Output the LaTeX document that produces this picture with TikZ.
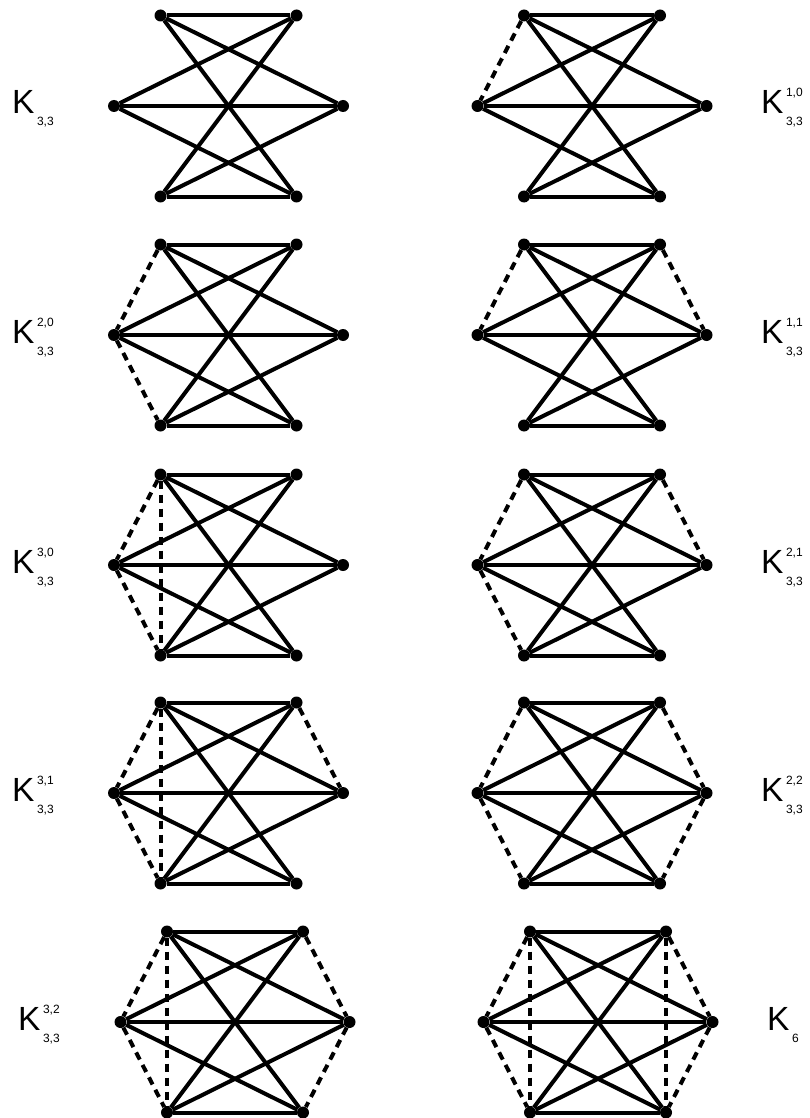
\documentclass[tikz,border=0pt]{standalone}
\usepackage{fontspec}
\setmainfont{Liberation Sans}
\usetikzlibrary{positioning}
\tikzset{
  vtx/.style={circle,fill=black,inner sep=0pt,minimum size=12pt},
  edge/.style={line width=4pt,black},
  extra/.style={line width=4pt,black,dash pattern=on 8pt off 6pt},
  klab/.style={anchor=base west,inner sep=0pt,font=\fontsize{33.5}{36}\selectfont},
}
% upper and lower index of a graph name
\newcommand{\idx}[2]{\hspace{2.5pt}\makebox[0pt][l]{\raisebox{17pt}{\fontsize{12}{12}\selectfont #1}}\raisebox{-12pt}{\fontsize{12}{12}\selectfont #2}}

\begin{document}
\begin{tikzpicture}[x=1pt,y=-1pt]
  \useasboundingbox (0,0) rectangle (809,1118);
  % the ten graphs, K33 edges in each
  \foreach \p/\cx/\cy in {1/228.5/106,2/592/106,3/228.5/335,4/592/335,5/228.5/565,
                          6/592/565,7/228.5/793,8/592/793,9/235/1022,10/598/1022}{
    \node[vtx] (p\p-tl) at (\cx-68,\cy-90.5) {};
    \node[vtx] (p\p-tr) at (\cx+68,\cy-90.5) {};
    \node[vtx] (p\p-l) at (\cx-114.5,\cy) {};
    \node[vtx] (p\p-r) at (\cx+114.5,\cy) {};
    \node[vtx] (p\p-bl) at (\cx-68,\cy+90.5) {};
    \node[vtx] (p\p-br) at (\cx+68,\cy+90.5) {};
    \foreach \a/\b in {tl/tr,tl/r,tl/br,l/tr,l/r,l/br,bl/tr,bl/r,bl/br}
      \draw[edge] (p\p-\a) -- (p\p-\b);
  }
  % added edges
  \draw[extra] (p2-tl) -- (p2-l);
  \draw[extra] (p3-tl) -- (p3-l) -- (p3-bl);
  \draw[extra] (p4-tl) -- (p4-l);
  \draw[extra] (p4-tr) -- (p4-r);
  \draw[extra] (p5-tl) -- (p5-l) -- (p5-bl);
  \draw[extra] (p5-tl) -- (p5-bl);
  \draw[extra] (p6-tl) -- (p6-l) -- (p6-bl);
  \draw[extra] (p6-tr) -- (p6-r);
  \draw[extra] (p7-tl) -- (p7-l) -- (p7-bl);
  \draw[extra] (p7-tl) -- (p7-bl);
  \draw[extra] (p7-tr) -- (p7-r);
  \draw[extra] (p8-tl) -- (p8-l) -- (p8-bl);
  \draw[extra] (p8-tr) -- (p8-r) -- (p8-br);
  \draw[extra] (p9-tl) -- (p9-l) -- (p9-bl);
  \draw[extra] (p9-tl) -- (p9-bl);
  \draw[extra] (p9-tr) -- (p9-r) -- (p9-br);
  \draw[extra] (p10-tl) -- (p10-l) -- (p10-bl);
  \draw[extra] (p10-tl) -- (p10-bl);
  \draw[extra] (p10-tr) -- (p10-r) -- (p10-br);
  \draw[extra] (p10-tr) -- (p10-br);
  % names
  \node[klab] (k1) at (12,114) {K\idx{}{3,3}};
  \node[klab] (k2) at (761,114) {K\idx{1,0}{3,3}};
  \node[klab] (k3) at (12,343) {K\idx{2,0}{3,3}};
  \node[klab] (k4) at (761,343) {K\idx{1,1}{3,3}};
  \node[klab] (k5) at (12,573) {K\idx{3,0}{3,3}};
  \node[klab] (k6) at (761,573) {K\idx{2,1}{3,3}};
  \node[klab] (k7) at (12,801) {K\idx{3,1}{3,3}};
  \node[klab] (k8) at (761,801) {K\idx{2,2}{3,3}};
  \node[klab] (k9) at (18,1030) {K\idx{3,2}{3,3}};
  \node[klab] (k10) at (767,1030) {K\idx{}{6}};
\end{tikzpicture}
\end{document}
